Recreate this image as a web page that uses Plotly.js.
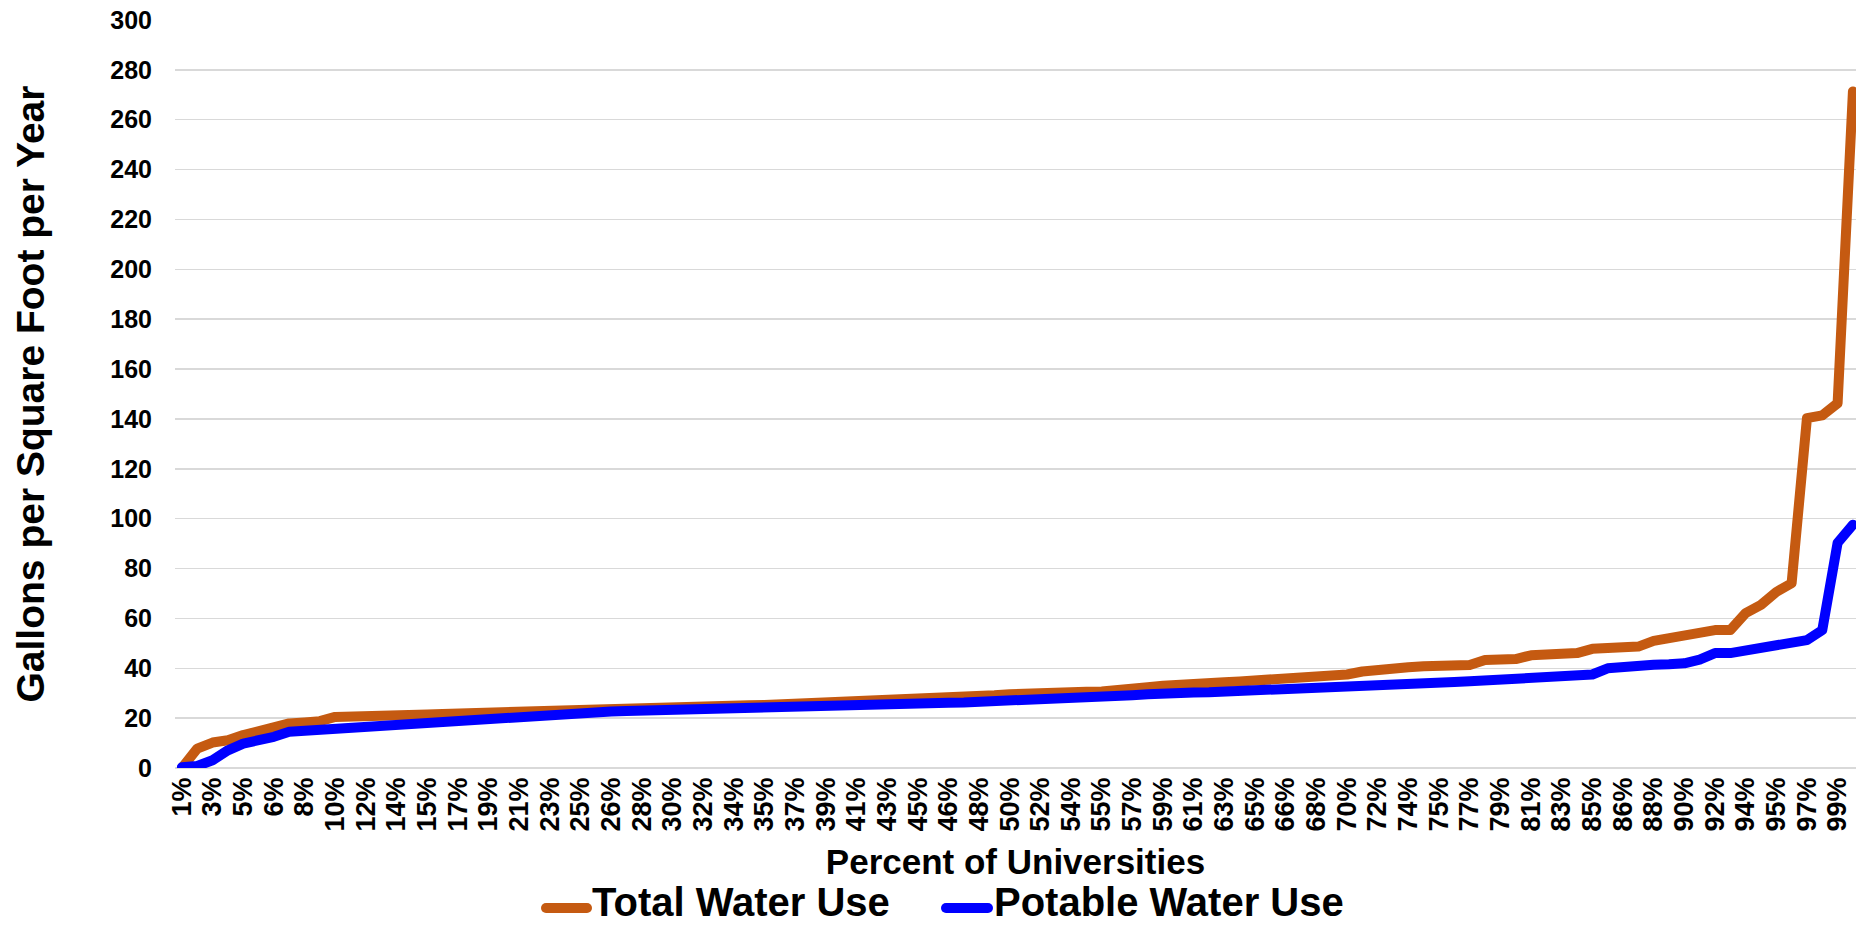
<!DOCTYPE html>
<html>
<head>
<meta charset="utf-8">
<script src="https://cdn.plot.ly/plotly-3.0.1.min.js"></script>
<style>
  html, body { margin: 0; padding: 0; background: #ffffff; }
  #chart { width: 1871px; height: 926px; }
</style>
</head>
<body>
<div id="chart"></div>
<script>
// Percentile label of each university, ranked from lowest to highest use
const percentLabels = [
  "1%","2%","3%","4%","5%","5%","6%","7%","8%","9%",
  "10%","11%","12%","13%","14%","15%","15%","16%","17%","18%",
  "19%","20%","21%","22%","23%","24%","25%","25%","26%","27%",
  "28%","29%","30%","31%","32%","33%","34%","35%","35%","36%",
  "37%","38%","39%","40%","41%","42%","43%","44%","45%","45%",
  "46%","47%","48%","49%","50%","51%","52%","53%","54%","55%",
  "55%","56%","57%","58%","59%","60%","61%","62%","63%","64%",
  "65%","65%","66%","67%","68%","69%","70%","71%","72%","73%",
  "74%","75%","75%","76%","77%","78%","79%","80%","81%","82%",
  "83%","84%","85%","85%","86%","87%","88%","89%","90%","91%",
  "92%","93%","94%","95%","95%","96%","97%","98%","99%","100%"
];

// Total water use, gallons per square foot per year
const totalWaterUse = [
  0, 7.8, 10.2, 11.1, 13.2, 14.8, 15.8, 17.9, 18.3, 18.8,
  20.5, 20.5, 20.7, 21.1, 21.3, 21.4, 21.5, 21.7, 21.9, 22.3,
  22.8, 23.0, 23.1, 23.3, 23.4, 23.5, 23.7, 23.8, 24.0, 24.1,
  24.3, 24.4, 24.5, 24.6, 24.8, 24.9, 25.0, 25.2, 25.3, 25.5,
  25.6, 25.9, 26.2, 26.4, 26.6, 26.8, 27.0, 27.3, 27.5, 27.8,
  28.0, 28.4, 28.8, 29.2, 29.6, 30.0, 30.1, 30.3, 30.4, 30.6,
  30.7, 31.6, 32.1, 32.4, 33.0, 33.6, 34.0, 34.2, 34.4, 34.7,
  35.0, 35.4, 35.8, 36.2, 36.6, 37.0, 37.5, 38.7, 39.6, 39.6,
  40.4, 40.8, 40.9, 41.0, 41.3, 43.3, 43.5, 43.7, 45.2, 45.6,
  45.9, 46.1, 47.8, 48.0, 48.3, 48.7, 51.0, 52.3, 53.4, 55.0,
  55.3, 55.3, 62.1, 65.4, 70.6, 74.1, 140.3, 141.4, 146.3, 271.3
];

// Potable water use, gallons per square foot per year
const potableWaterUse = [
  0.3, 0.8, 3.1, 7.1, 9.8, 10.9, 12.5, 14.5, 14.9, 15.3,
  15.7, 16.1, 16.5, 17.0, 17.2, 17.4, 17.9, 19.2, 19.6, 19.9,
  20.1, 20.6, 20.9, 21.2, 21.5, 21.8, 22.1, 22.4, 22.7, 22.9,
  23.1, 23.3, 23.5, 23.6, 23.8, 24.0, 24.1, 24.2, 24.4, 24.5,
  24.6, 24.8, 25.0, 25.1, 25.2, 25.3, 25.4, 25.6, 25.8, 26.0,
  26.2, 26.3, 26.5, 26.6, 26.7, 27.6, 27.7, 27.8, 28.0, 28.1,
  28.3, 29.0, 29.2, 29.6, 30.1, 30.2, 30.3, 30.4, 30.6, 30.8,
  31.0, 31.1, 31.3, 31.6, 32.0, 32.3, 32.5, 32.8, 33.0, 33.3,
  33.6, 33.9, 34.2, 34.5, 34.8, 35.1, 35.4, 35.9, 36.3, 36.6,
  36.9, 37.2, 37.5, 40.0, 40.8, 41.2, 41.4, 41.6, 42.0, 43.5,
  46.1, 46.1, 47.1, 47.8, 48.9, 49.8, 51.3, 55.3, 90.3, 97.6
];

const seriesNames = ["Total Water Use", "Potable Water Use"];
const seriesColors = ["#C55A11", "#0000FF"];
const yTicks = [0, 20, 40, 60, 80, 100, 120, 140, 160, 180, 200, 220, 240, 260, 280, 300];

// Rank position of each university along the x axis (1 .. n)
const rank = percentLabels.map((_, i) => i + 1);
// Every other rank carries a visible label
const labelRanks = rank.filter(r => r % 2 === 1);
const labelTexts = labelRanks.map(r => percentLabels[r - 1]);

const FONT = "Arial, 'Liberation Sans', Helvetica, sans-serif";

const W = 1871, H = 926;
const M = { l: 175, r: 15, t: 20, b: 158, autoexpand: false };
const plotW = W - M.l - M.r, plotH = H - M.t - M.b;
// pixel -> paper helpers for the key below the axis
const px = v => (v - M.l) / plotW;
const py = v => (H - M.b - v) / plotH;

const traces = [
  {
    x: rank, y: totalWaterUse, name: seriesNames[0],
    type: "scatter", mode: "lines", showlegend: false,
    line: { color: seriesColors[0], width: 10, shape: "linear" }
  },
  {
    x: rank, y: potableWaterUse, name: seriesNames[1],
    type: "scatter", mode: "lines", showlegend: false,
    line: { color: seriesColors[1], width: 10, shape: "linear" }
  }
];

// Key: a short line sample followed by the series name
const keyItems = [
  { x0: 546, x1: 587, tx: 591 },
  { x0: 946, x1: 988, tx: 993 }
];
const keySampleY = 908;
const keyTextY = 902;

const shapes = keyItems.map((k, i) => ({
  type: "line", xref: "paper", yref: "paper",
  x0: px(k.x0), x1: px(k.x1), y0: py(keySampleY), y1: py(keySampleY),
  line: { color: seriesColors[i], width: 10 }
}));

const annotations = keyItems.map((k, i) => ({
  text: seriesNames[i], xref: "paper", yref: "paper",
  x: px(k.tx), y: py(keyTextY), xanchor: "left", yanchor: "middle",
  showarrow: false, borderpad: 0,
  font: { family: FONT, size: 40, color: "#000000", weight: "bold" }
}));

const layout = {
  width: W, height: H,
  margin: M,
  paper_bgcolor: "#ffffff", plot_bgcolor: "#ffffff",
  font: { family: FONT, color: "#000000", weight: "bold" },
  showlegend: false,
  shapes: shapes,
  annotations: annotations,
  xaxis: {
    type: "linear",
    range: [0.55, 110.2],
    tickmode: "array",
    tickvals: labelRanks,
    ticktext: labelTexts,
    tickangle: -90,
    tickfont: { family: FONT, size: 27, color: "#000000", weight: "bold" },
    ticks: "",
    ticklabelstandoff: 3,
    showgrid: false,
    zeroline: false,
    showline: false,
    automargin: true,
    title: {
      text: "Percent of Universities",
      font: { family: FONT, size: 35, color: "#000000", weight: "bold" },
      standoff: 19
    }
  },
  yaxis: {
    range: [0, 300],
    tickmode: "array",
    tickvals: yTicks,
    ticktext: yTicks.map(String),
    tickfont: { family: FONT, size: 25, color: "#000000", weight: "bold" },
    ticks: "",
    ticklabelstandoff: 22,
    showgrid: true,
    gridcolor: "#D9D9D9",
    gridwidth: 1.5,
    zeroline: true,
    zerolinecolor: "#D9D9D9",
    zerolinewidth: 1.5,
    showline: false,
    automargin: true,
    title: {
      text: "Gallons per Square Foot per Year",
      font: { family: FONT, size: 39, color: "#000000", weight: "bold" },
      standoff: 53
    }
  },
  hovermode: false
};

Plotly.newPlot("chart", traces, layout, { staticPlot: true, displayModeBar: false })
  .then(gd => {
    // Rounded ends and joins on the plotted lines and key samples
    gd.querySelectorAll(".scatterlayer path.js-line, .shapelayer path").forEach(p => {
      p.style.strokeLinecap = "round";
      p.style.strokeLinejoin = "round";
    });
  });
</script>
</body>
</html>
